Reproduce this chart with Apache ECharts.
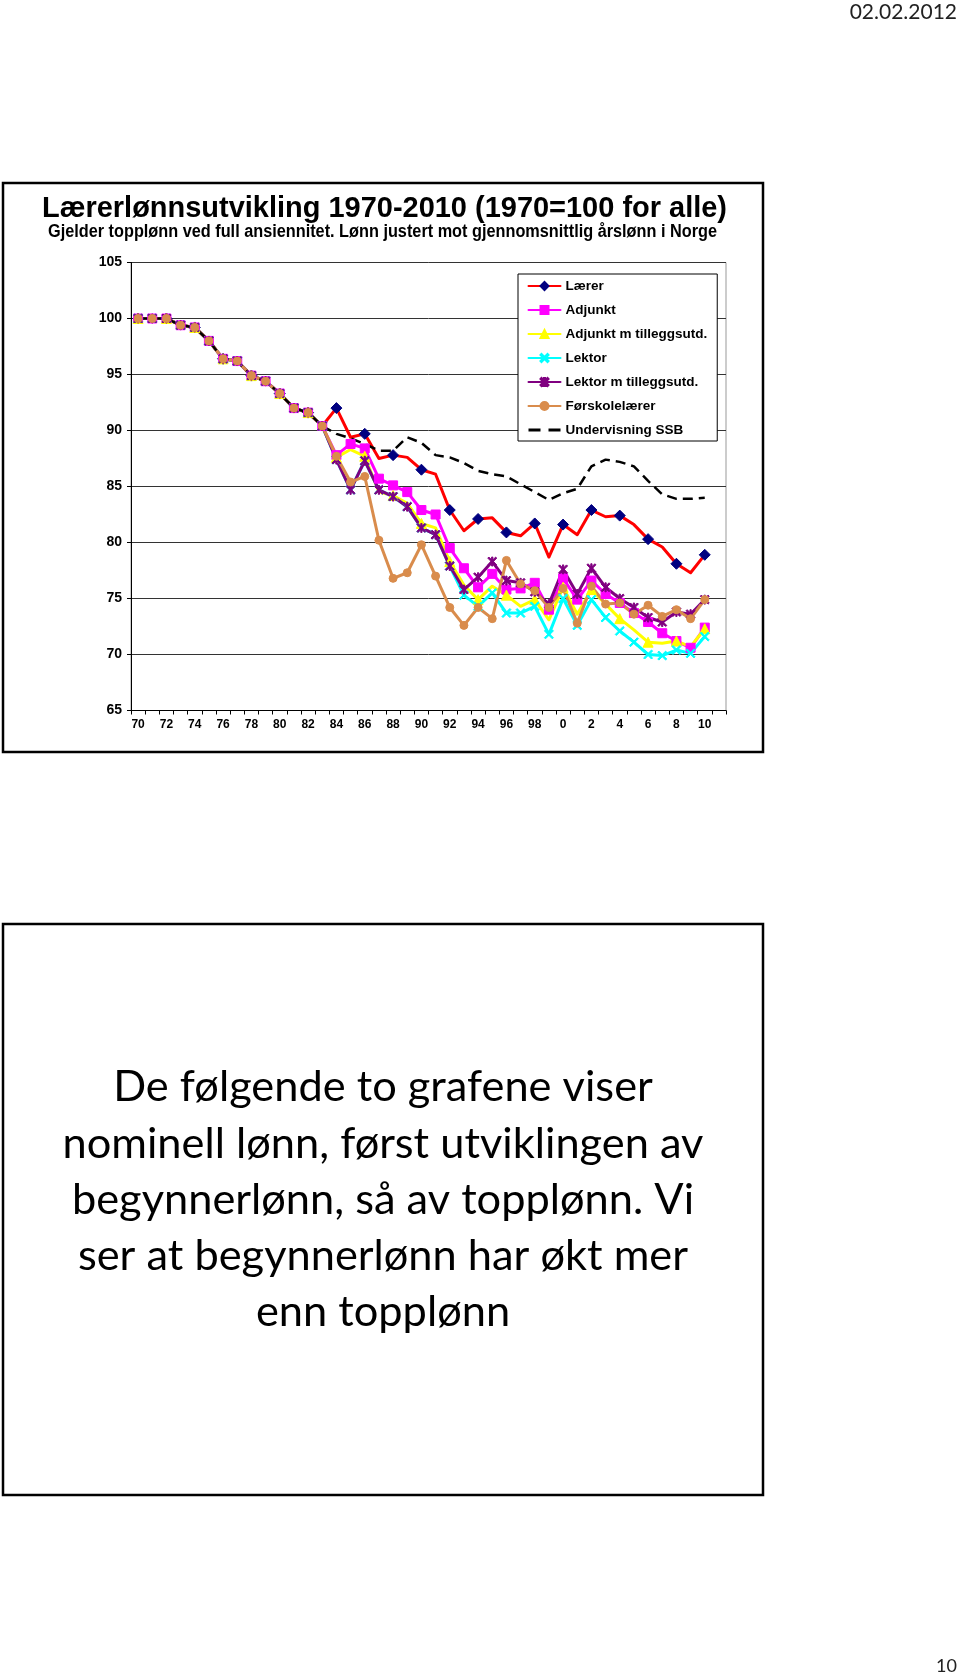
<!DOCTYPE html>
<html><head><meta charset="utf-8">
<script src="https://cdn.jsdelivr.net/npm/echarts@6/dist/echarts.min.js"></script>
<style>html,body{margin:0;padding:0;background:#fff}#c{width:960px;height:1680px}</style>
</head><body><div id="c"></div>
<script>
// ---- data ----
const xLabels = ['70','71','72','73','74','75','76','77','78','79','80','81','82','83','84','85','86','87','88','89','90','91','92','93','94','95','96','97','98','99','0','1','2','3','4','5','6','7','8','9','10',''];
const yTicks = [65, 70, 75, 80, 85, 90, 95, 100, 105];
const seriesNames = ['Lærer','Adjunkt','Adjunkt m tilleggsutd.','Lektor','Lektor m tilleggsutd.','Førskolelærer','Undervisning SSB'];
const laerer   = [100,100,100,99.4,99.2,98.0,96.4,96.2,94.9,94.4,93.3,92.0,91.6,90.4,92.0,89.4,89.7,87.5,87.8,87.6,86.5,86.1,82.9,81.05,82.1,82.2,80.9,80.6,81.7,78.7,81.6,80.7,82.9,82.3,82.4,81.6,80.3,79.6,78.1,77.3,78.9];
const adjunkt  = [100,100,100,99.4,99.2,98.0,96.4,96.2,94.9,94.4,93.3,92.0,91.6,90.4,87.8,88.8,88.4,85.7,85.1,84.5,82.9,82.5,79.5,77.7,76.0,77.2,75.8,75.9,76.4,74.0,76.8,74.9,76.6,75.4,74.6,73.7,72.9,71.9,71.2,70.6,72.4];
const adjunktT = [100,100,100,99.4,99.2,98.0,96.4,96.2,94.9,94.4,93.3,92.0,91.6,90.4,87.6,88.3,87.7,84.5,84.2,83.5,81.7,81.3,78.3,76.2,74.9,76.1,75.3,74.3,74.9,73.1,76.0,73.6,75.8,74.5,73.2,72.2,71.1,71.0,71.2,70.7,72.3];
const lektor   = [100,100,100,99.4,99.2,98.0,96.4,96.2,94.9,94.4,93.3,92.0,91.6,90.4,87.4,84.7,87.3,84.7,84.1,83.2,81.3,80.7,77.9,75.3,74.3,75.5,73.7,73.7,74.3,71.8,75.0,72.6,74.9,73.3,72.1,71.1,70.0,69.9,70.4,70.1,71.6];
const lektorT  = [100,100,100,99.4,99.2,98.0,96.4,96.2,94.9,94.4,93.3,92.0,91.6,90.4,87.4,84.7,87.3,84.7,84.1,83.2,81.3,80.7,77.9,75.8,76.9,78.3,76.6,76.4,75.6,74.5,77.6,75.4,77.7,76.0,75.0,74.2,73.3,72.9,73.8,73.6,74.9];
const forskole = [100,100,100,99.4,99.2,98.0,96.4,96.2,94.9,94.4,93.3,92.0,91.6,90.4,87.7,85.4,85.9,80.2,76.8,77.3,79.8,77.0,74.2,72.6,74.2,73.2,78.4,76.3,75.7,74.2,75.9,72.8,76.1,74.5,74.6,73.6,74.4,73.4,74.0,73.2,74.9];
const ssb      = [100,100,100,99.4,99.2,98.0,96.4,96.2,94.9,94.4,93.3,92.0,91.6,90.4,89.7,89.3,88.8,88.2,88.2,89.4,88.9,87.8,87.6,87.1,86.4,86.1,85.9,85.2,84.5,83.8,84.4,84.8,86.8,87.4,87.2,86.8,85.5,84.3,83.9,83.9,84.0];

const titleText = 'Lærerlønnsutvikling 1970-2010 (1970=100 for alle)';
const subtitleText = 'Gjelder topplønn ved full ansiennitet. Lønn justert mot gjennomsnittlig årslønn i Norge';
const bodyLines = ['De følgende to grafene viser','nominell lønn, først utviklingen av','begynnerlønn, så av topplønn. Vi','ser at begynnerlønn har økt mer','enn topplønn'];
const dateText = '02.02.2012';
const pageText = '10';

// ---- helpers ----
const mctx = document.createElement('canvas').getContext('2d');
function measure(text, font){ mctx.font = font; return mctx.measureText(text).width; }

const xPath = 'path://M0,1.2L1.2,0L10,8.8L8.8,10Z M8.8,0L10,1.2L1.2,10L0,8.8Z';
const starPath = 'path://M0,1.2L1.2,0L10,8.8L8.8,10Z M8.8,0L10,1.2L1.2,10L0,8.8Z M4.3,0L5.7,0L5.7,10L4.3,10Z';

function mk(name, data, lineColor, markColor, symbol, size, extra){
  return Object.assign({
    name, type:'line', data: data.concat([null]),
    symbol, symbolSize: size, showSymbol: symbol !== 'none',
    lineStyle:{color:lineColor, width:3, cap:'round', join:'round'},
    itemStyle:{color:markColor, borderColor:markColor, borderWidth:1},
    emphasis:{disabled:true}, animation:false
  }, extra||{});
}

const series = [
  mk(seriesNames[0], laerer,   '#FF0000', '#000080', 'diamond', 11),
  mk(seriesNames[1], adjunkt,  '#FF00FF', '#FF00FF', 'rect', 9),
  mk(seriesNames[2], adjunktT, '#FFFF00', '#FFFF00', 'triangle', 10),
  mk(seriesNames[3], lektor,   '#00FFFF', '#00FFFF', xPath, 9),
  mk(seriesNames[4], lektorT,  '#800080', '#800080', starPath, 9),
  mk(seriesNames[5], forskole, '#D98C4C', '#D98C4C', 'circle', 8),
  mk(seriesNames[6], ssb,      '#000000', '#000000', 'none', 0, {lineStyle:{color:'#000', width:2.5, type:[10,6]}})
];

// text fitting
const titleFont = 'bold 30px "Liberation Sans"';
const titleScale = 685 / measure(titleText, titleFont);
const subFont = 'bold 18px "Liberation Sans"';
const subScale = 669 / measure(subtitleText, subFont);
const bodyBase = 40;
const bodyFS = bodyBase * 641 / measure(bodyLines[1], bodyBase + 'px Lato');

const graphics = [
  {type:'rect', shape:{x:3, y:183, width:760, height:569}, style:{fill:'none', stroke:'#000', lineWidth:2.5}, z:100},
  {type:'rect', shape:{x:3, y:924, width:760, height:571}, style:{fill:'none', stroke:'#000', lineWidth:2.5}, z:100},
  {type:'text', x:384.5, y:209, scaleX:titleScale, style:{text:titleText, x:0, y:0, align:'center', verticalAlign:'middle', font:titleFont, fill:'#000'}, z:100},
  {type:'text', x:382.5, y:232, scaleX:subScale, style:{text:subtitleText, x:0, y:0, align:'center', verticalAlign:'middle', font:subFont, fill:'#000'}, z:100},
  {type:'text', x:957, y:12, style:{text:dateText, x:0, y:0, align:'right', verticalAlign:'middle', font:'21px Lato', fill:'#222'}, z:100},
  {type:'text', x:957, y:1666, style:{text:pageText, x:0, y:0, align:'right', verticalAlign:'middle', font:'18px Lato', fill:'#222'}, z:100}
];
const lineYs = [1087.5, 1144, 1200, 1256, 1312.5];
bodyLines.forEach((t,i)=>{
  graphics.push({type:'text', x:383, y:lineYs[i], style:{text:t, x:0, y:0, align:'center', verticalAlign:'middle', font: bodyFS.toFixed(2)+'px Lato', fill:'#000'}, z:100});
});

const legendData = seriesNames.map((n, i) => i === 6
  ? {name:n, itemStyle:{opacity:0}, lineStyle:{type:[12,8], width:3}}
  : {name:n});

const chart = echarts.init(document.getElementById('c'), null, {renderer:'canvas'});
chart.setOption({
  animation:false,
  backgroundColor:'#fff',
  graphic: graphics,
  grid:{left:131, right:234, top:262.5, bottom:969.5, show:true, borderColor:'#999', borderWidth:1, backgroundColor:'transparent'},
  legend:{
    orient:'vertical', left:518, top:274,
    data: legendData,
    itemWidth:32, itemHeight:10, itemGap:10,
    padding:[5,10,4,9],
    borderColor:'#000', borderWidth:1, backgroundColor:'#fff',
    textStyle:{fontSize:13.5, fontWeight:'bold', fontFamily:'"Liberation Sans", Arial, sans-serif', color:'#000', lineHeight:14},
    selectedMode:false
  },
  xAxis:{
    type:'category', data:xLabels, boundaryGap:true,
    axisLine:{lineStyle:{color:'#000', width:1}},
    axisTick:{show:true, interval:0, length:4, lineStyle:{color:'#000'}},
    axisLabel:{interval:1, color:'#000', fontSize:12, fontWeight:'bold', fontFamily:'"Liberation Sans", Arial, sans-serif', margin:8},
    splitLine:{show:false}
  },
  yAxis:{
    type:'value', min:yTicks[0], max:yTicks[yTicks.length-1], interval:5,
    axisLine:{show:true, lineStyle:{color:'#000', width:1}},
    axisTick:{show:true, length:4, inside:false, lineStyle:{color:'#000'}},
    axisLabel:{color:'#000', fontSize:14, fontWeight:'bold', fontFamily:'"Liberation Sans", Arial, sans-serif', margin:9},
    splitLine:{show:true, lineStyle:{color:'#333', width:1}}
  },
  tooltip:{show:false},
  series
});
</script>
</body></html>
